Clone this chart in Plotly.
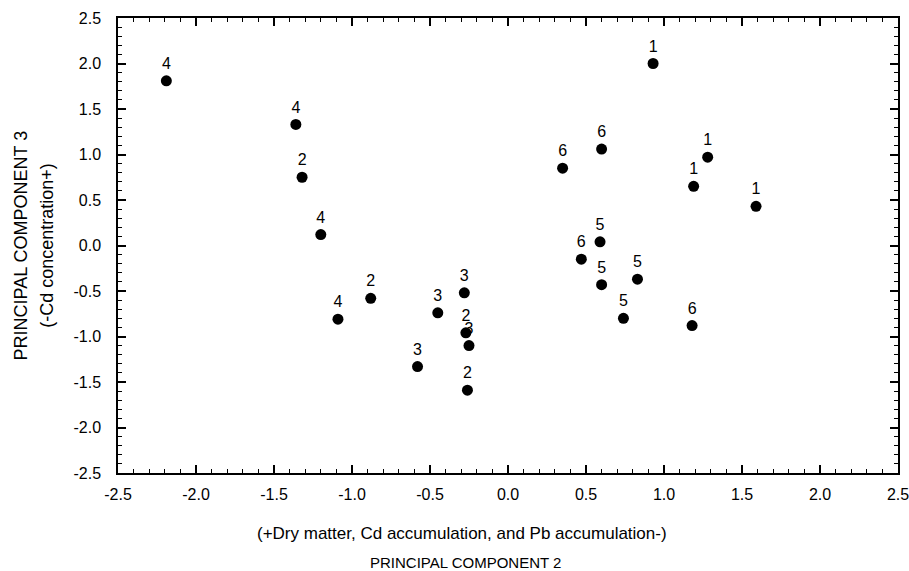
import plotly.graph_objects as go

pc2 = [-2.19, -1.36, -1.32, -1.20, -0.88, -1.09, -0.45, -0.28, -0.27, -0.25, -0.58, -0.26,
       0.35, 0.60, 0.93, 1.28, 1.19, 1.59, 0.59, 0.47, 0.60, 0.83, 0.74, 1.18]
pc3 = [1.81, 1.33, 0.75, 0.12, -0.58, -0.81, -0.74, -0.52, -0.96, -1.10, -1.33, -1.59,
       0.85, 1.06, 2.00, 0.97, 0.65, 0.43, 0.04, -0.15, -0.43, -0.37, -0.80, -0.88]
labels = ["4", "4", "2", "4", "2", "4", "3", "3", "2", "3", "3", "2",
          "6", "6", "1", "1", "1", "1", "5", "6", "5", "5", "5", "6"]
tick_vals = [-2.5, -2.0, -1.5, -1.0, -0.5, 0.0, 0.5, 1.0, 1.5, 2.0, 2.5]
tick_text = ["%.1f" % v for v in tick_vals]

font = "Liberation Sans, Arial"

fig = go.Figure()
fig.add_trace(go.Scatter(
    x=pc2, y=pc3, mode="markers+text", text=labels,
    textposition="top center",
    textfont=dict(family=font, size=16, color="black"),
    marker=dict(size=11, color="black"),
    showlegend=False, cliponaxis=False,
))

axis_common = dict(
    range=[-2.5, 2.5], tickmode="array", tickvals=tick_vals, ticktext=tick_text,
    ticks="inside", ticklen=8, tickwidth=1.5, tickcolor="black",
    minor=dict(ticks="inside", ticklen=4, tickwidth=1, tickcolor="black", dtick=0.1),
    showline=True, linecolor="black", linewidth=1.5, mirror="ticks",
    showgrid=False, zeroline=False, automargin=False,
    ticklabeloverflow="allow",
    tickfont=dict(family=font, size=16, color="black"),
)

fig.update_xaxes(ticklabelstandoff=6, **axis_common)
fig.update_yaxes(ticklabelstandoff=12, **axis_common)

fig.update_layout(
    width=909, height=571,
    margin=dict(l=118, r=11, t=18, b=98),
    plot_bgcolor="white", paper_bgcolor="white",
    annotations=[
        dict(text="(+Dry matter, Cd accumulation, and Pb accumulation-)",
             x=0.441, y=-0.134, xref="paper", yref="paper", showarrow=False,
             xanchor="center", yanchor="middle",
             font=dict(family=font, size=17, color="black")),
        dict(text="PRINCIPAL COMPONENT 2",
             x=0.446, y=-0.196, xref="paper", yref="paper", showarrow=False,
             xanchor="center", yanchor="middle",
             font=dict(family=font, size=15, color="black")),
        dict(text="PRINCIPAL COMPONENT 3",
             x=-0.1256, y=0.5, xref="paper", yref="paper", showarrow=False,
             xanchor="center", yanchor="middle", textangle=-90,
             font=dict(family=font, size=18, color="black")),
        dict(text="(-Cd concentration+)",
             x=-0.092, y=0.5, xref="paper", yref="paper", showarrow=False,
             xanchor="center", yanchor="middle", textangle=-90,
             font=dict(family=font, size=18, color="black")),
    ],
)

fig.write_html(
    "out.html",
    config={"displayModeBar": False},
    post_script="document.body.style.margin='0';document.body.style.overflow='hidden';",
)
